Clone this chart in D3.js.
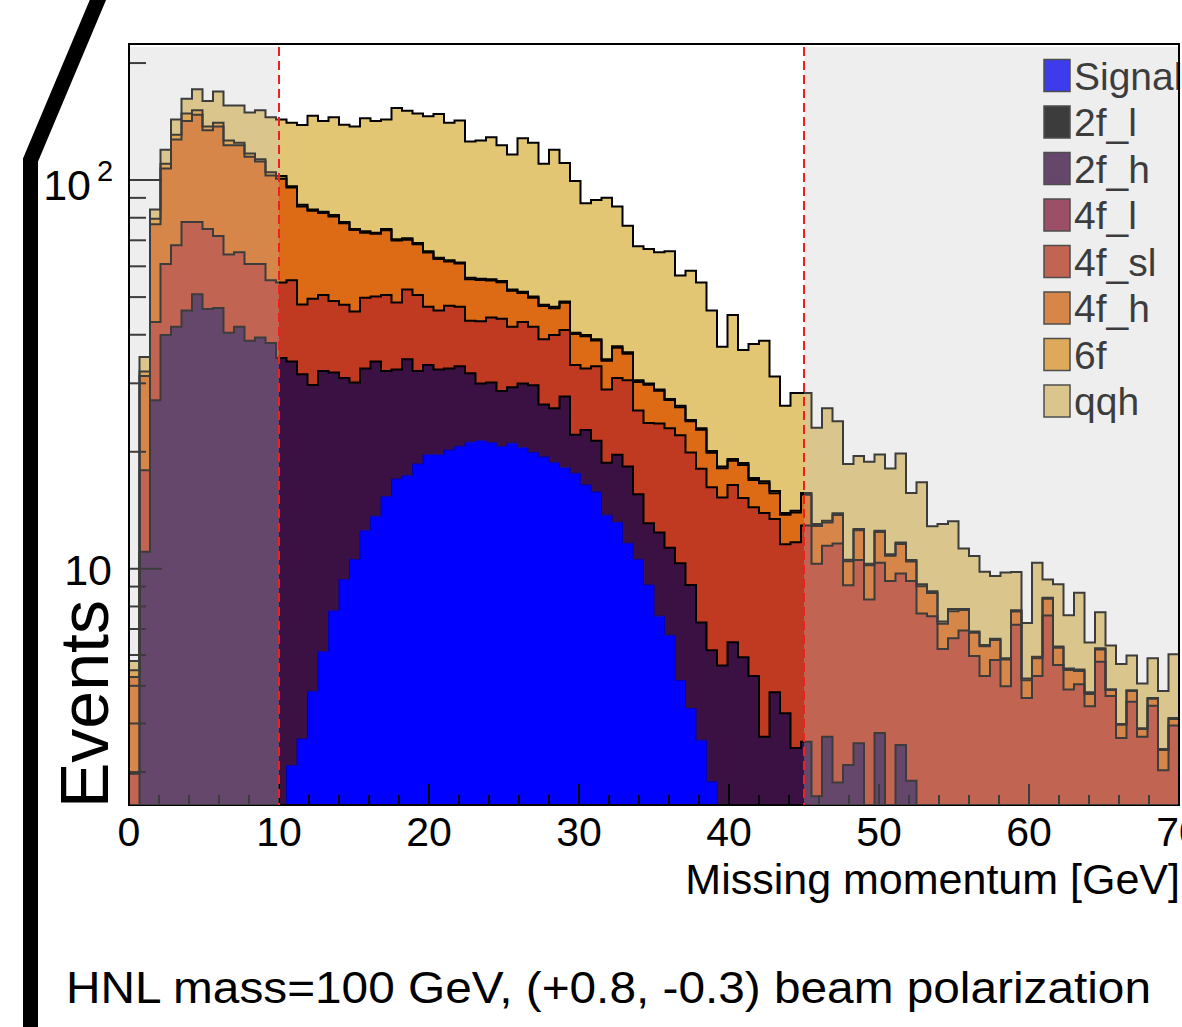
<!DOCTYPE html>
<html>
<head>
<meta charset="utf-8">
<script src="https://cdn.jsdelivr.net/npm/d3@7"></script>
<style>
  body { margin: 0; background: #fff; }
  svg { display: block; font-family: "Liberation Sans", Arial, sans-serif; }
</style>
</head>
<body>
<svg id="chart" width="1182" height="1027"></svg>
<script>
// 100 bins of 0.7 GeV from 0 to 70 GeV
const binWidth = 0.7
const nBins = 100

const signal = [
  0, 0, 0, 0, 0, 0, 0, 0, 0, 0, 0, 0, 0, 0, 0,
  3.12, 3.65, 4.84, 6.12, 7.80, 9.39, 10.57, 12.53, 13.65, 15.33, 17.02, 17.36, 18.60, 19.65, 19.65,
  20.20, 20.65, 21.17, 21.35, 21.11, 20.65, 21.05, 20.48, 19.92, 19.39, 18.75, 18.19, 17.60, 16.43, 15.76,
  13.73, 13.17, 11.63, 10.57, 9.08, 7.55, 6.74, 5.16, 4.37, 3.62, 2.83,
  0, 0, 0, 0, 0, 0, 0, 0, 0, 0, 0, 0, 0, 0, 0, 0, 0, 0, 0, 0, 0, 0,
  0, 0, 0, 0, 0, 0, 0, 0, 0, 0, 0, 0, 0, 0, 0, 0, 0, 0, 0, 0, 0, 0
]
const twoF_l = [
  0, 0, 0, 0, 0, 0, 0, 0, 0, 0, 0, 0, 0, 0, 0, 0, 0, 0, 0, 0, 0, 0, 0, 0, 0,
  0, 0, 0, 0, 0, 0, 0, 0, 0, 0, 0, 0, 0, 0, 0, 0, 0, 0, 0, 0, 0, 0, 0, 0, 0,
  0, 0, 0, 0, 0, 0, 0, 0, 0, 0, 0, 0, 0, 0, 0, 0, 0, 0, 0, 0, 0, 0, 0, 0, 0,
  0, 0, 0, 0, 0, 0, 0, 0, 0, 0, 0, 0, 0, 0, 0, 0, 0, 0, 0, 0, 0, 0, 0, 0, 0
]
const twoF_h = [
  0, 11.07, 27.14, 39.92, 41.95, 46.19, 50.87, 46.58, 46.84, 40.46, 41.95, 38.62, 39.37, 38.09, 34.86,
  31.00, 28.02, 24.88, 26.16, 24.21, 21.58, 19.56, 20.20, 20.47, 16.95, 15.53, 17.22, 13.68, 13.81, 12.90,
  12.53, 12.54, 10.67, 8.62, 9.02, 8.02, 8.26, 9.49, 9.72, 7.08, 7.14, 9.55, 4.53, 6.31, 5.59,
  5.02, 6.48, 6.71, 4.97, 4.02, 4.85, 4.58, 5.17, 4.71, 3.66, 3.34, 5.64, 6.47, 5.92, 5.30,
  3.70, 4.81, 4.25, 3.46, 3.59, 2.60, 3.70, 2.82, 3.13, 3.56, 0, 3.78, 0, 3.52, 2.85,
  0, 0, 0, 0, 0, 0, 0, 0, 0, 0, 0, 0, 0, 0, 0, 0, 0, 0, 0, 0, 0, 0, 0, 0, 0
]
const fourF_l = [
  0, 0, 0, 0, 0, 0, 0, 0, 0, 0, 0, 0, 0, 0, 0, 0, 0, 0, 0, 0, 0, 0, 0, 0, 0,
  0, 0, 0, 0, 0, 0, 0, 0, 0, 0, 0, 0, 0, 0, 0, 0, 0, 0, 0, 0, 0, 0, 0, 0, 0,
  0, 0, 0, 0, 0, 0, 0, 0, 0, 0, 0, 0, 0, 0, 0, 0, 0, 0, 0, 0, 0, 0, 0, 0, 0,
  0, 0, 0, 0, 0, 0, 0, 0, 0, 0, 0, 0, 0, 0, 0, 0, 0, 0, 0, 0, 0, 0, 0, 0, 0
]
const fourF_sl = [
  2.97, 6.87, 15.98, 20.94, 26.02, 31.81, 27.13, 28.27, 24.98, 23.87, 23.27, 22.24, 21.49, 17.17, 19.64,
  21.14, 16.21, 19.78, 18.32, 16.82, 16.78, 15.81, 17.04, 16.07, 18.32, 15.87, 17.73, 18.32, 13.77, 13.64,
  14.76, 14.04, 11.64, 13.39, 14.20, 15.29, 12.64, 13.15, 12.31, 12.47, 14.03, 13.40, 11.33, 9.99, 11.84,
  10.16, 11.32, 12.21, 9.99, 10.60, 11.24, 11.67, 11.74, 10.84, 10.81, 10.03, 9.61, 9.96, 9.29, 9.09,
  10.22, 8.62, 7.32, 8.24, 9.33, 7.71, 7.76, 8.80, 5.94, 6.98, 8.34, 6.59, 9.30, 6.20, 6.45,
  7.67, 7.55, 6.22, 6.63, 6.94, 5.97, 5.30, 5.83, 4.99, 7.18, 4.65, 5.30, 7.58, 5.66, 4.89,
  5.05, 4.43, 5.77, 4.71, 3.67, 4.55, 3.70, 4.44, 3.03, 3.95
]
const fourF_h = [
  2.30, 13.38, 33.82, 46.24, 59.13, 63.90, 69.20, 59.45, 65.48, 58.57, 57.68, 53.94, 50.84, 47.54, 46.30,
  40.41, 37.63, 33.83, 31.70, 31.79, 29.65, 28.41, 23.45, 22.53, 23.65, 21.53, 17.93, 17.81, 17.84, 16.51,
  14.24, 13.75, 12.06, 11.98, 10.86, 10.62, 9.96, 8.07, 7.84, 8.51, 6.91, 7.24, 6.70, 6.89, 5.45,
  5.37, 6.09, 5.20, 4.72, 6.07, 5.07, 4.17, 3.98, 4.04, 4.70, 3.69, 2.89, 2.54, 3.29, 2.53,
  2.68, 2.22, 2.20, 2.26, 2.59, 2.58, 1.69, 2.13, 1.38, 2.02, 1.87, 2.06, 1.50, 1.87, 1.14,
  1.35, 1.11, 1.00, 1.15, 0.89, 0.88, 1.02, 0.73, 0.85, 0.59, 0.52, 0.59, 0.79, 0.60, 0.60,
  0.41, 0.33, 0.43, 0.17, 0.30, 0.30, 0.17, 0.19, 0.39, 0.16
]
const sixF = [
  0.21, 0.87, 2.59, 3.0, 3.6, 6.5, 4.0, 3.0, 3.1, 3.5, 1.8, 2.2, 1.5, 2.0, 1.7,
  0.8, 0.9, 0.7, 0.6, 0.7, 0.6, 0.5, 0.6, 0.5, 0.6, 0.5, 0.6, 0.5, 0.5, 0.4,
  0.5, 0.4, 0.5, 0.4, 0.4, 0.4, 0.4, 0.4, 0.4, 0.3, 0.4, 0.3, 0.3, 0.3, 0.3,
  0.3, 0.3, 0.3, 0.3, 0.2, 0.2, 0.2, 0.2, 0.2, 0.2, 0.2, 0.2, 0.2, 0.2, 0.2,
  0.2, 0.2, 0.15, 0.15, 0.15, 0.15, 0.15, 0.15, 0.1, 0.1, 0.1, 0.1, 0.1, 0.1, 0.1,
  0.1, 0.1, 0.1, 0.1, 0.05, 0.05, 0.05, 0.05, 0.05, 0.05, 0.05, 0.05, 0.05, 0.05, 0.05,
  0.05, 0.05, 0.05, 0.02, 0.02, 0.02, 0.02, 0.02, 0.02, 0.02
]
const qqh = [
  0.31, 2.87, 4.50, 9.5, 12.4, 13.6, 20.0, 22.5, 28.5, 29.1, 30.8, 32.2, 38.0, 40.3, 40.6,
  43.93, 52.09, 62.27, 59.00, 63.78, 60.80, 62.45, 70.48, 68.68, 68.25, 82.85, 79.96, 79.49, 80.33, 84.90,
  78.17, 80.92, 69.66, 70.66, 73.31, 67.92, 64.09, 76.61, 74.51, 62.35, 72.37, 62.02, 58.99, 47.21, 49.88,
  55.48, 48.10, 40.25, 37.03, 36.50, 36.31, 38.21, 30.57, 34.24, 31.51, 26.10, 18.92, 25.79, 17.84, 20.76,
  21.82, 15.38, 12.33, 14.24, 12.69, 10.02, 12.59, 10.07, 8.05, 6.84, 8.54, 7.16, 7.21, 8.12, 5.12,
  7.57, 4.11, 5.72, 5.37, 3.40, 3.88, 3.46, 2.97, 3.89, 1.99, 2.03, 4.43, 0.97, 2.81, 2.05,
  3.17, 1.65, 1.48, 1.45, 1.70, 1.11, 1.18, 1.24, 1.41, 1.90
]

const legendNames = ['Signal', '2f_l', '2f_h', '4f_l', '4f_sl', '4f_h', '6f', 'qqh']
const legendColors = ['#0000ff', '#000000', '#3a1142', '#891d40', '#bf3a20', '#dd6a14', '#ea9c2f', '#e3c674']
const seriesValues = [signal, twoF_l, twoF_h, fourF_l, fourF_sl, fourF_h, sixF, qqh]

const xTicksMajor = [0, 10, 20, 30, 40, 50, 60, 70]
const xTickLabels = ['0', '10', '20', '30', '40', '50', '60', '70']
const yTicksMajor = [10, 100]
const yTicksMinor = [3, 4, 5, 6, 7, 8, 9, 20, 30, 40, 50, 60, 70, 80, 90, 200]
const cutLow = 10, cutHigh = 45

const svg = d3.select('#chart')
const plotLeft = 129, plotRight = 1179, plotTop = 44, plotBottom = 805

const x = d3.scaleLinear().domain([0, 70]).range([plotLeft, plotRight])
const y = d3.scaleLog().domain([2.468, 223.9]).range([plotBottom, plotTop]).clamp(true)
const yv = v => y(Math.max(v, 1e-3))

const rows = d3.range(nBins).map(i => {
  let r = { lo: i * binWidth }
  legendNames.forEach((k, j) => { r[k] = seriesValues[j][i] })
  return r
})
const stacked = d3.stack().keys(legendNames)(rows)

svg.append('defs').append('clipPath').attr('id', 'plotclip')
  .append('rect').attr('x', plotLeft).attr('y', plotTop).attr('width', plotRight - plotLeft).attr('height', plotBottom - plotTop)

const plot = svg.append('g').attr('clip-path', 'url(#plotclip)')

const stepPoints = s => {
  let pts = s.map(d => ({ x: d.data.lo, y0: d[0], y1: d[1] }))
  let last = pts[pts.length - 1]
  pts.push({ x: 70, y0: last.y0, y1: last.y1 })
  return pts
}

const area = d3.area()
  .curve(d3.curveStepAfter)
  .x(d => x(d.x))
  .y0(d => yv(d.y0))
  .y1(d => yv(d.y1))

const line = d3.line()
  .curve(d3.curveStepAfter)
  .x(d => x(d.x))
  .y(d => yv(d.y1))

stacked.forEach((s, i) => {
  plot.append('path')
    .attr('d', area(stepPoints(s)))
    .style('fill', legendColors[i])
    .style('stroke', 'none')
})

stacked.forEach((s, i) => {
  if (legendNames[i] === '2f_l' || legendNames[i] === '4f_l') return
  plot.append('path')
    .attr('d', line(stepPoints(s)))
    .style('fill', 'none')
    .style('stroke', i === 0 ? '#0000b4' : '#000')
    .style('stroke-width', i === 0 ? 1 : 2)
})

// ticks (ROOT style, drawn inside the frame)
const axes = svg.append('g').style('stroke', '#000')
d3.range(0, 71, 2).forEach(v => {
  let len = v % 10 === 0 ? 21 : 10
  axes.append('line').attr('x1', x(v)).attr('x2', x(v)).attr('y1', plotBottom).attr('y2', plotBottom - len).style('stroke-width', 2)
})
yTicksMajor.forEach(v => {
  axes.append('line').attr('x1', plotLeft).attr('x2', plotLeft + 33).attr('y1', y(v)).attr('y2', y(v)).style('stroke-width', 2)
})
yTicksMinor.forEach(v => {
  axes.append('line').attr('x1', plotLeft).attr('x2', plotLeft + 17).attr('y1', y(v)).attr('y2', y(v)).style('stroke-width', 2)
})
svg.append('rect')
  .attr('x', plotLeft).attr('y', plotTop).attr('width', plotRight - plotLeft).attr('height', plotBottom - plotTop)
  .style('fill', 'none').style('stroke', '#000').style('stroke-width', 2)

// legend
const legend = svg.append('g')
legendNames.forEach((name, i) => {
  let cy = 75.5 + i * 46.5
  legend.append('rect')
    .attr('x', 1044).attr('y', cy - 16).attr('width', 26).attr('height', 32)
    .style('fill', legendColors[i]).style('stroke', '#1a1a1a').style('stroke-width', 1.5)
  legend.append('text')
    .attr('x', 1074).attr('y', cy + 14)
    .style('font-size', '39px').style('fill', '#000')
    .text(name)
})

// shaded regions outside the cut window
const shadeTop = 220
svg.append('rect')
  .attr('x', x(0) + 1).attr('y', y(shadeTop)).attr('width', x(cutLow) - x(0) - 1).attr('height', plotBottom - y(shadeTop))
  .style('fill', '#c6c6c6').style('opacity', 0.3)
svg.append('rect')
  .attr('x', x(cutHigh)).attr('y', y(shadeTop)).attr('width', x(70) - x(cutHigh) - 1).attr('height', plotBottom - y(shadeTop))
  .style('fill', '#c6c6c6').style('opacity', 0.3)

;[cutLow, cutHigh].forEach(v => {
  svg.append('line')
    .attr('x1', x(v)).attr('x2', x(v)).attr('y1', y(shadeTop)).attr('y2', plotBottom)
    .style('stroke', '#f01e1e').style('stroke-width', 2).style('stroke-dasharray', '9,5')
})

// axis labels
xTicksMajor.forEach((v, i) => {
  svg.append('text')
    .attr('x', x(v)).attr('y', 846)
    .attr('text-anchor', 'middle')
    .style('font-size', '41px')
    .text(xTickLabels[i])
})
svg.append('text')
  .attr('x', 91).attr('y', 200).attr('text-anchor', 'end')
  .style('font-size', '43px').text('10')
svg.append('text')
  .attr('x', 97).attr('y', 181)
  .style('font-size', '29px').text('2')
svg.append('text')
  .attr('x', 112).attr('y', y(10) + 16).attr('text-anchor', 'end')
  .style('font-size', '43px').text('10')

svg.append('text')
  .attr('x', 1180).attr('y', 894)
  .attr('text-anchor', 'end')
  .style('font-size', '43px')
  .text('Missing momentum [GeV]')

svg.append('text')
  .attr('transform', 'translate(108,808) rotate(-90)')
  .style('font-size', '68px')
  .text('Events')

svg.append('text')
  .attr('x', 66).attr('y', 1003)
  .attr('textLength', 1085).attr('lengthAdjust', 'spacingAndGlyphs')
  .style('font-size', '45px')
  .text('HNL mass=100 GeV, (+0.8, -0.3) beam polarization')

// decorative black stroke on the left
svg.append('path')
  .attr('d', 'M100,-5 L30.5,160 L30.5,1035')
  .style('fill', 'none').style('stroke', '#000').style('stroke-width', 15)
  .style('stroke-linejoin', 'miter')
</script>
</body>
</html>
